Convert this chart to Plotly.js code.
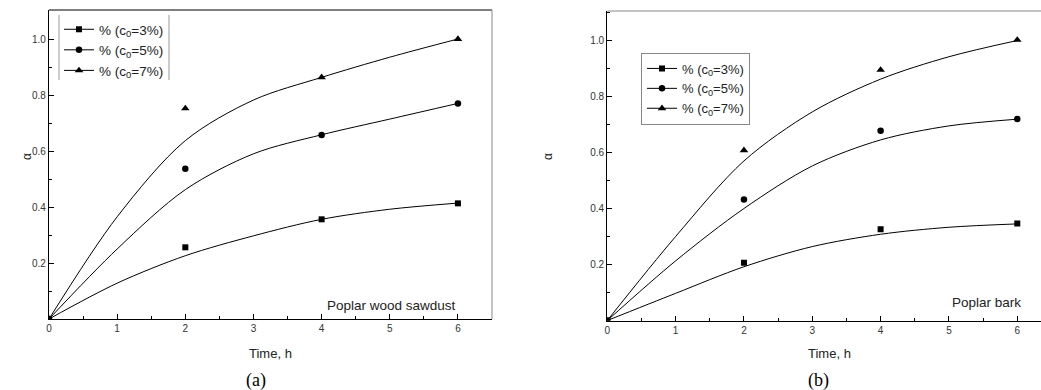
<!DOCTYPE html>
<html>
<head>
<meta charset="utf-8">
<script src="https://cdn.plot.ly/plotly-3.0.1.min.js"></script>
<style>html,body{margin:0;padding:0;background:#fff;}#chart{width:1041px;height:390px;}</style>
</head>
<body>
<div id="chart"></div>
<script>
// ---- data ----
var timePts = [0, 2, 4, 6];
var curveT = [0, 1, 2, 3, 4, 5, 6];

// (a) Poplar wood sawdust
var a_pts3 = [0, 0.256, 0.356, 0.413];
var a_pts5 = [0, 0.537, 0.657, 0.770];
var a_pts7 = [0, 0.752, 0.863, 1.000];
var a_fit3 = [0, 0.128, 0.226, 0.297, 0.356, 0.392, 0.414];
var a_fit5 = [0, 0.250, 0.462, 0.590, 0.658, 0.714, 0.770];
var a_fit7 = [0, 0.365, 0.637, 0.782, 0.863, 0.935, 1.000];

// (b) Poplar bark
var b_pts3 = [0, 0.206, 0.326, 0.346];
var b_pts5 = [0, 0.432, 0.678, 0.720];
var b_pts7 = [0, 0.608, 0.895, 1.002];
var b_fit3 = [0, 0.097, 0.192, 0.264, 0.308, 0.333, 0.345];
var b_fit5 = [0, 0.213, 0.400, 0.552, 0.645, 0.695, 0.719];
var b_fit7 = [0, 0.300, 0.570, 0.745, 0.862, 0.942, 1.000];

var seriesNames = ['% (c<sub>0</sub>=3%)', '% (c<sub>0</sub>=5%)', '% (c<sub>0</sub>=7%)'];
var symbols = ['square', 'circle', 'triangle-up'];
var symSizes = [6, 6.5, 7.5];
var xTickVals = [0, 1, 2, 3, 4, 5, 6];
var yTickVals = [0.2, 0.4, 0.6, 0.8, 1.0];
var yTickText = ['0.2', '0.4', '0.6', '0.8', '1.0'];
var xTitle = 'Time, h';
var yTitle = 'α';
var panelNotes = ['Poplar wood sawdust', 'Poplar bark'];
var panelLabels = ['(a)', '(b)'];

// ---- helpers ----
function gapped(arr) { // isolated points so that no connecting line is drawn
  var out = [];
  arr.forEach(function (v, i) { if (i) out.push(null); out.push(v); });
  return out;
}
var FONT = 'Liberation Sans, Arial, sans-serif';
var SERIF = 'Liberation Serif, Times New Roman, serif';
var traces = [];
function addPanel(fits, pts, xa, ya, leg) {
  for (var i = 0; i < 3; i++) {
    traces.push({
      x: curveT, y: fits[i], xaxis: xa, yaxis: ya, mode: 'lines',
      line: {color: '#000', width: 1, shape: 'spline', smoothing: 0.9},
      showlegend: false, hoverinfo: 'skip'
    });
  }
  for (var j = 0; j < 3; j++) {
    traces.push({
      x: gapped(timePts), y: gapped(pts[j]), xaxis: xa, yaxis: ya,
      mode: 'lines+markers', connectgaps: false, name: seriesNames[j],
      legend: leg,
      line: {color: '#000', width: 1},
      marker: {symbol: symbols[j], size: symSizes[j], color: '#000'}
    });
  }
}
addPanel([a_fit3, a_fit5, a_fit7], [a_pts3, a_pts5, a_pts7], 'x', 'y', 'legend');
addPanel([b_fit3, b_fit5, b_fit7], [b_pts3, b_pts5, b_pts7], 'x2', 'y2', 'legend2');

var W = 1041, H = 390;
function px(x) { return x / W; }
function py(y) { return (H - y) / H; }

function xAxis(domain, range, anchor) {
  return {
    domain: domain, range: range, anchor: anchor,
    tickmode: 'array', tickvals: xTickVals,
    ticks: 'inside', ticklen: 5, tickwidth: 1, tickcolor: '#000',
    minor: {tickmode: 'linear', tick0: 0, dtick: 0.5, ticks: 'inside', ticklen: 3, tickcolor: '#000'},
    showline: true, linecolor: '#000', linewidth: 1.2,
    showgrid: false, zeroline: false,
    tickfont: {family: FONT, size: 10, color: '#333'}
  };
}
function yAxis(domain, range, anchor) {
  return {
    domain: domain, range: range, anchor: anchor,
    tickmode: 'array', tickvals: yTickVals, ticktext: yTickText,
    ticks: 'inside', ticklen: 5, tickwidth: 1, tickcolor: '#000',
    minor: {tickmode: 'array', tickvals: [0.1, 0.3, 0.5, 0.7, 0.9, 1.1], ticks: 'inside', ticklen: 3, tickcolor: '#000'},
    showline: true, linecolor: '#000', linewidth: 1.2,
    showgrid: false, zeroline: false,
    tickfont: {family: FONT, size: 10, color: '#333'}
  };
}
function note(text, x, y, xanchor, font, angle) {
  return {text: text, xref: 'paper', yref: 'paper', x: px(x), y: py(y),
    xanchor: xanchor, yanchor: 'middle', showarrow: false, textangle: angle || 0, font: font};
}
var titleFont = {family: FONT, size: 13, color: '#222'};
var alphaFont = {family: FONT, size: 12, color: '#222'};
var noteFont = {family: FONT, size: 13.5, color: '#222'};
var labelFont = {family: SERIF, size: 18, color: '#000'};

var layout = {
  width: W, height: H,
  margin: {l: 0, r: 0, t: 0, b: 0},
  paper_bgcolor: '#fff', plot_bgcolor: '#fff',
  font: {family: FONT, color: '#222'},
  xaxis: xAxis([px(49), px(492)], [0, 6.5], 'y'),
  yaxis: yAxis([py(319), py(10)], [0, 309 / 280], 'x'),
  xaxis2: xAxis([px(607.3), 1], [0, (W - 607.3) / 68.33], 'y2'),
  yaxis2: yAxis([py(320.5), py(11)], [0, 309.5 / 280], 'x2'),
  legend: {
    x: px(59), y: py(14), xanchor: 'left', yanchor: 'top',
    bgcolor: 'rgba(0,0,0,0)', borderwidth: 0,
    font: {family: FONT, size: 13.5, color: '#222'}
  },
  legend2: {
    x: px(641), y: py(52.5), xanchor: 'left', yanchor: 'top',
    bgcolor: 'rgba(255,255,255,0)', bordercolor: '#888', borderwidth: 1,
    font: {family: FONT, size: 13, color: '#222'}
  },
  shapes: [
    // left panel frame (top black, right gray)
    {type: 'line', xref: 'paper', yref: 'paper', x0: px(49), x1: px(492), y0: py(10), y1: py(10), line: {color: '#000', width: 1.2}},
    {type: 'line', xref: 'paper', yref: 'paper', x0: px(492), x1: px(492), y0: py(10), y1: py(319), line: {color: '#888', width: 1}},
    // right panel top line
    {type: 'line', xref: 'paper', yref: 'paper', x0: px(607.3), x1: 1, y0: py(11), y1: py(11), line: {color: '#888', width: 1}},
    // left legend side bars
    {type: 'line', xref: 'paper', yref: 'paper', x0: px(59), x1: px(59), y0: py(15), y1: py(80), line: {color: '#999', width: 1}},
    {type: 'line', xref: 'paper', yref: 'paper', x0: px(169), x1: px(169), y0: py(15), y1: py(80), line: {color: '#999', width: 1}}
  ],
  annotations: [
    note(xTitle, 270.5, 353, 'center', titleFont),
    note(xTitle, 829, 353, 'center', titleFont),
    note(yTitle, 27, 157, 'center', alphaFont, -90),
    note(yTitle, 548, 157, 'center', alphaFont, -90),
    note(panelNotes[0], 458, 305, 'right', noteFont),
    note(panelNotes[1], 1023, 302, 'right', noteFont),
    note(panelLabels[0], 256, 380, 'center', labelFont),
    note(panelLabels[1], 818, 380, 'center', labelFont)
  ]
};

Plotly.newPlot('chart', traces, layout, {staticPlot: true, displayModeBar: false});
</script>
</body>
</html>
